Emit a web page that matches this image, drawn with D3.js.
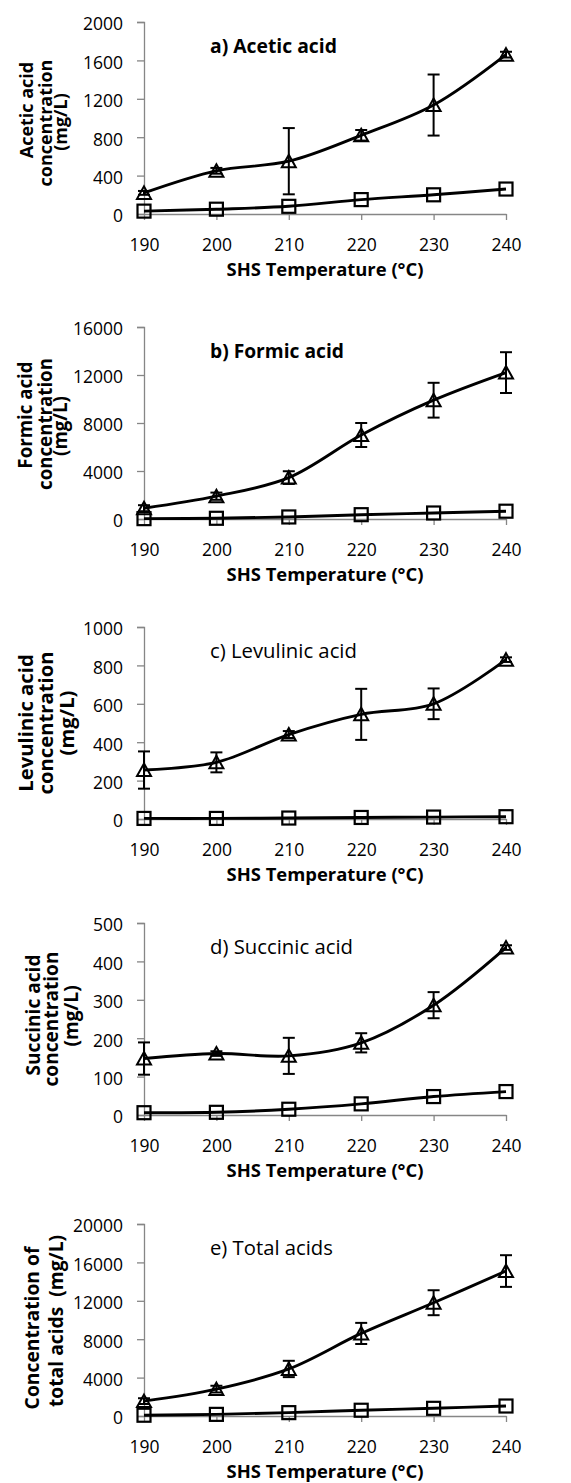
<!DOCTYPE html>
<html>
<head>
<meta charset="utf-8">
<script src="https://cdn.jsdelivr.net/npm/d3@7/dist/d3.min.js"></script>
<style>
  html, body { margin: 0; padding: 0; background: #fff; }
  svg { display: block; }
  text { font-family: "Open Sans", "DejaVu Sans", sans-serif; fill: #000; }
</style>
</head>
<body>
<svg id="chart" width="571" height="1483"></svg>
<script>
// ---------------- DATA ----------------
const temps = [190, 200, 210, 220, 230, 240];

const aceticTri    = [220, 450, 550, 820, 1135, 1660];
const aceticTriErr = [20, 30, 345, 55, 318, 30];
const aceticSq     = [30, 50, 80, 150, 200, 260];
const aceticTicks  = [0, 400, 800, 1200, 1600, 2000];

const formicTri    = [900, 1900, 3450, 7000, 9900, 12200];
const formicTriErr = [250, 300, 530, 1000, 1450, 1700];
const formicSq     = [30, 60, 170, 360, 500, 650];
const formicTicks  = [0, 4000, 8000, 12000, 16000];

const levulinicTri    = [255, 295, 440, 545, 600, 830];
const levulinicTriErr = [97, 52, 18, 133, 80, 12];
const levulinicSq     = [3, 3, 5, 8, 10, 12];
const levulinicTicks  = [0, 200, 400, 600, 800, 1000];

const succinicTri    = [147, 160, 154, 188, 286, 436];
const succinicTriErr = [42, 6, 47, 25, 34, 6];
const succinicSq     = [6, 7, 15, 29, 48, 61];
const succinicTicks  = [0, 100, 200, 300, 400, 500];

const totalTri    = [1550, 2800, 4900, 8600, 11800, 15100];
const totalTriErr = [300, 350, 850, 1100, 1300, 1650];
const totalSq     = [80, 170, 350, 600, 800, 1040];
const totalTicks  = [0, 4000, 8000, 12000, 16000, 20000];

const panelTitles = ["a) Acetic acid", "b) Formic acid", "c) Levulinic acid", "d) Succinic acid", "e) Total acids"];
const yTitles = [
  ["Acetic acid", "concentration", "(mg/L)"],
  ["Formic acid", "concentration", "(mg/L)"],
  ["Levulinic acid", "concentration", "(mg/L)"],
  ["Succinic acid", "concentration", "(mg/L)"],
  ["Concentration of", "total acids  (mg/L)"]
];
const xTitle = "SHS Temperature (°C)";

// ---------------- LAYOUT ----------------
const layout = [
  { top: 22,   titleBold: true,  titleW: 127, yLines: [{x:33, dy:-8}, {x:52, dy:5}, {x:67, dy:4}], yFitW: 127, yFitIdx: 1 },
  { top: 327,  titleBold: true,  titleW: 134, yLines: [{x:32, dy:-8}, {x:52, dy:1}, {x:67, dy:3}], yFitW: 132, yFitIdx: 1 },
  { top: 627,  titleBold: false, titleW: 147, yLines: [{x:33, dy:0},  {x:53, dy:0}, {x:74, dy:0}], yFitW: 143, yFitIdx: 1 },
  { top: 923,  titleBold: false, titleW: 143, yLines: [{x:40, dy:-4}, {x:58, dy:0}, {x:78, dy:-3}], yFitW: 135, yFitIdx: 1 },
  { top: 1224, titleBold: false, titleW: 123, yLines: [{x:39, dy:8},  {x:63, dy:1}], yFitW: 163, yFitIdx: 0 }
];
const series = [
  { tri: aceticTri, err: aceticTriErr, sq: aceticSq, ticks: aceticTicks },
  { tri: formicTri, err: formicTriErr, sq: formicSq, ticks: formicTicks },
  { tri: levulinicTri, err: levulinicTriErr, sq: levulinicSq, ticks: levulinicTicks },
  { tri: succinicTri, err: succinicTriErr, sq: succinicSq, ticks: succinicTicks },
  { tri: totalTri, err: totalTriErr, sq: totalSq, ticks: totalTicks }
];

const plotH = 192, xLeft = 144, xRight = 506;
const axisColor = "#868686";
const svg = d3.select("#chart");

function fitWidth(sel, target) {
  const base = parseFloat(sel.style("font-size"));
  const w = sel.node().getComputedTextLength();
  if (w > 0) sel.style("font-size", (base * target / w) + "px");
}

const x = d3.scaleLinear().domain([190, 240]).range([xLeft, xRight]);

series.forEach((s, i) => {
  const L = layout[i];
  const top = L.top, bottom = top + plotH;
  const ymax = s.ticks[s.ticks.length - 1];
  const y = d3.scaleLinear().domain([0, ymax]).range([bottom, top]);
  const g = svg.append("g");

  // Y axis
  const yAxis = g.append("g").attr("transform", `translate(${xLeft},0)`)
    .call(d3.axisLeft(y).tickValues(s.ticks).tickSize(7).tickPadding(14).tickFormat(d3.format("d")));
  yAxis.select(".domain").attr("stroke", axisColor).attr("stroke-width", 1.3);
  yAxis.selectAll(".tick line").attr("stroke", axisColor).attr("stroke-width", 1.3);
  yAxis.selectAll(".tick text").attr("dy", "0.45em").style("font-size", "17.5px")
    .style("font-family", '"Open Sans", sans-serif').attr("fill", "#000");

  // X axis
  const xAxis = g.append("g").attr("transform", `translate(0,${bottom})`)
    .call(d3.axisBottom(x).tickValues(temps).tickSizeInner(6).tickSizeOuter(0).tickPadding(19).tickFormat(d3.format("d")));
  xAxis.select(".domain").attr("stroke", axisColor).attr("stroke-width", 1.3);
  xAxis.selectAll(".tick line").attr("stroke", axisColor).attr("stroke-width", 1.3);
  xAxis.selectAll(".tick text").style("font-size", "17.5px")
    .style("font-family", '"Open Sans", sans-serif').attr("fill", "#000");

  // Lines
  const line = d3.line().x((d, j) => x(temps[j])).y(d => y(d)).curve(d3.curveCatmullRom.alpha(0.5));
  g.append("path").attr("d", line(s.tri)).attr("fill", "none").attr("stroke", "#000").attr("stroke-width", 2.9);
  g.append("path").attr("d", line(s.sq)).attr("fill", "none").attr("stroke", "#000").attr("stroke-width", 2.9);

  // Error bars (triangle series)
  const eb = g.append("g").attr("stroke", "#000").attr("stroke-width", 2);
  s.tri.forEach((v, j) => {
    const cx = x(temps[j]), y1 = y(v + s.err[j]), y0 = y(v - s.err[j]);
    eb.append("line").attr("x1", cx).attr("x2", cx).attr("y1", y1).attr("y2", y0);
    eb.append("line").attr("x1", cx - 6).attr("x2", cx + 6).attr("y1", y1).attr("y2", y1);
    eb.append("line").attr("x1", cx - 6).attr("x2", cx + 6).attr("y1", y0).attr("y2", y0);
  });

  // Markers
  g.append("g").selectAll("path").data(s.tri).join("path")
    .attr("transform", (d, j) => `translate(${x(temps[j])},${y(d)})`)
    .attr("d", "M0,-6.5L7,6L-7,6Z")
    .attr("fill", "none").attr("stroke", "#000").attr("stroke-width", 2);
  g.append("g").selectAll("rect").data(s.sq).join("rect")
    .attr("x", (d, j) => x(temps[j]) - 6.5).attr("y", d => y(d) - 6.5)
    .attr("width", 13).attr("height", 13)
    .attr("fill", "none").attr("stroke", "#000").attr("stroke-width", 2.2);

  // Panel title
  const pt = g.append("text").attr("x", 210).attr("y", top + 31)
    .style("font-size", "18px").style("font-weight", L.titleBold ? "bold" : "normal")
    .text(panelTitles[i]);
  fitWidth(pt, L.titleW);

  // X title
  const xt = g.append("text").attr("x", 325).attr("y", bottom + 62).attr("text-anchor", "middle")
    .style("font-size", "18px").style("font-weight", "bold").text(xTitle);
  fitWidth(xt, 197);

  // Y title (rotated lines)
  const cy = (top + bottom) / 2;
  const yts = yTitles[i].map((t, k) => {
    const lp = L.yLines[k];
    return g.append("text")
      .attr("transform", `translate(${lp.x},${cy + lp.dy}) rotate(-90)`)
      .attr("text-anchor", "middle")
      .style("font-size", "18px").style("font-weight", "bold")
      .style("white-space", "pre")
      .text(t);
  });
  fitWidth(yts[L.yFitIdx], L.yFitW);
  const fs = yts[L.yFitIdx].style("font-size");
  yts.forEach(t => t.style("font-size", fs));
});
</script>
</body>
</html>
